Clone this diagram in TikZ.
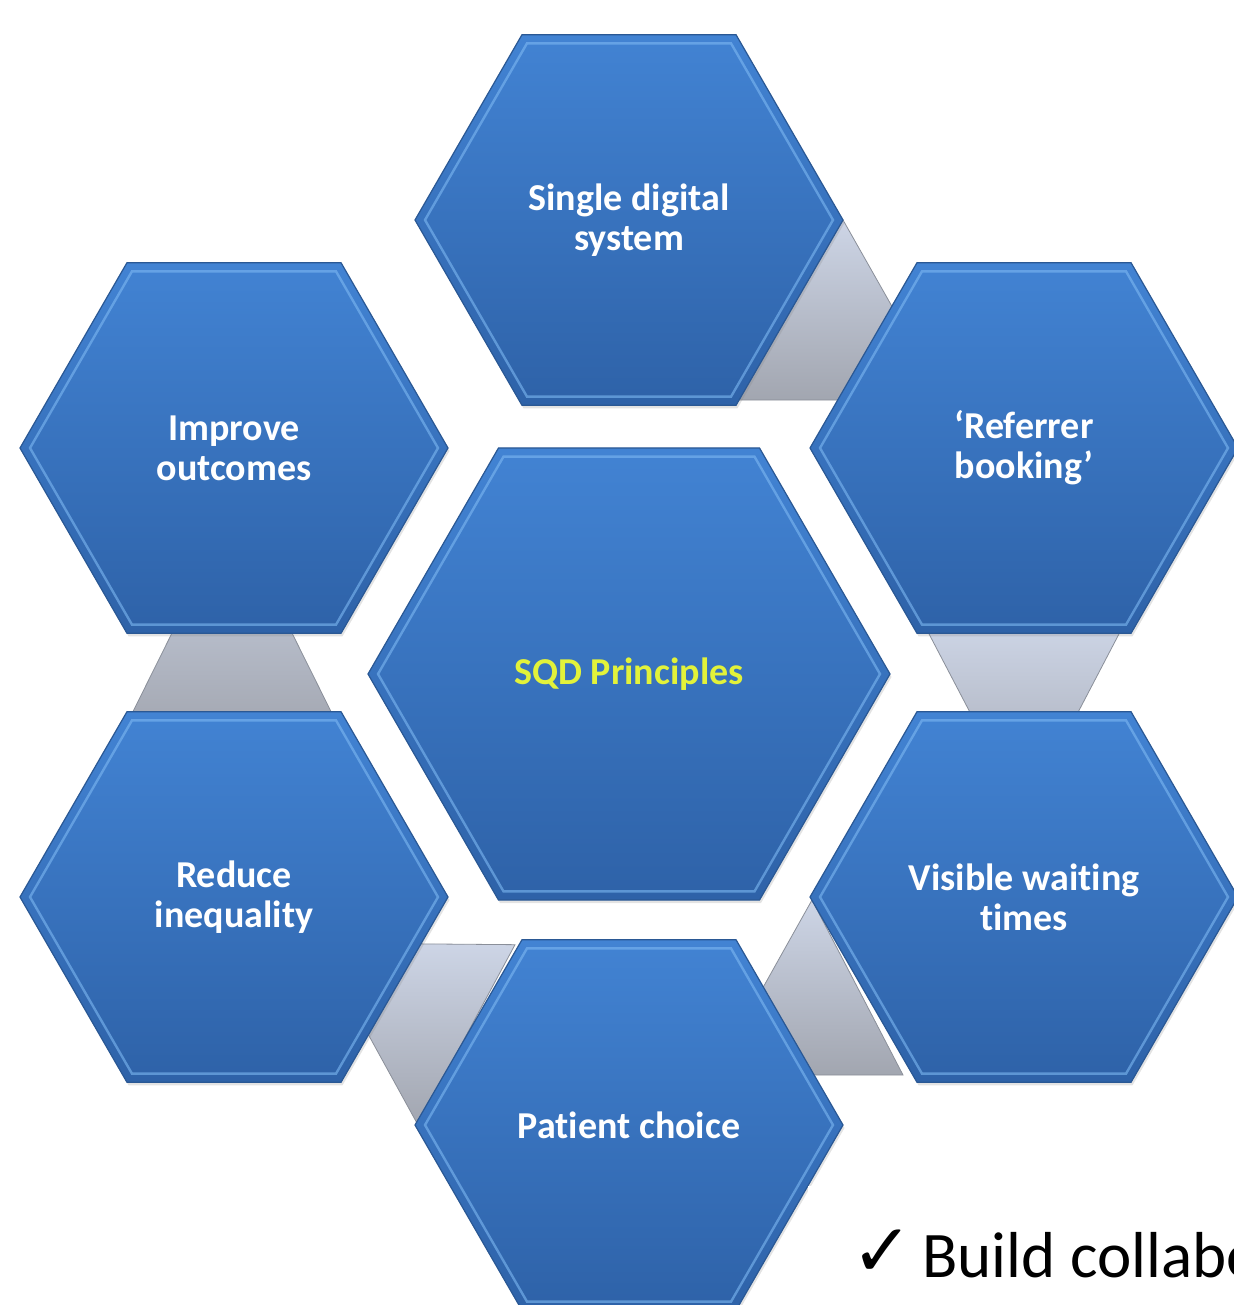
\documentclass[tikz,border=0pt]{standalone}
\usepackage{fontspec}
\setmainfont{Carlito}[Ligatures={NoCommon}]
\newfontfamily\symbolfont{DejaVu Sans}
\usetikzlibrary{shapes.geometric,calc,shadows}

\pgfdeclarelayer{background}
\pgfsetlayers{background,main}

\definecolor{hexTop}{HTML}{4283D3}
\definecolor{hexBottom}{HTML}{2E62A8}
\definecolor{hexEdge}{HTML}{2A5894}
\definecolor{hexGlint}{HTML}{7DB8F2}
\definecolor{linkTop}{HTML}{CDD5E6}
\definecolor{linkBottom}{HTML}{A2A6B0}
\definecolor{linkEdge}{HTML}{8A8F99}
\definecolor{titleYellow}{HTML}{E2F23A}

\tikzset{
  hexcell/.style={regular polygon, regular polygon sides=6,
    inner sep=0pt, outer sep=0pt, minimum size=428,
    top color=hexTop, bottom color=hexBottom,
    draw=hexEdge, line width=1.2pt,
    drop shadow={opacity=0.22, shadow xshift=1.5pt, shadow yshift=-3pt},
    text=white, align=center,
    font=\bfseries\fontsize{38}{40}\selectfont},
  hexrim/.style={regular polygon, regular polygon sides=6,
    inner sep=0pt, outer sep=0pt,
    draw=hexGlint, draw opacity=0.6, line width=2.4pt},
  link/.style={top color=linkTop, bottom color=linkBottom,
    draw=linkEdge, line width=0.8pt},
  note/.style={inner sep=0pt, outer sep=0pt, text=black},
}

% one bevelled hexagon: name, centre, circumcircle diameter, extra style, label
\newcommand\honeycell[5]{%
  \node[hexcell, minimum size=#3, #4] (#1) at (#2) {#5};
  \node[hexrim, minimum size=#3-20] (#1-rim) at (#1.center) {};
}

\begin{document}
\begin{tikzpicture}[x=1pt,y=-1pt]
\useasboundingbox (0,0) rectangle (1233,1305);

% the seven cells
\honeycell{digital}{629,220}{428}{}{Single digital\\system}
\honeycell{outcomes}{234,448}{428}{}{Improve\\outcomes}
\honeycell{referrer}{1024,448}{428}{}{‘Referrer\\booking’}
\honeycell{principles}{629,674}{522}{text=titleYellow}{SQD Principles}
\honeycell{inequality}{234,897}{428}{}{Reduce\\inequality}
\honeycell{waiting}{1024,897}{428}{}{Visible waiting\\times}
\honeycell{choice}{629,1125}{428}{}{Patient choice}

% grey links behind the ring of cells
\begin{pgfonlayer}{background}
  \path[link] (digital.east) -- ($(digital.east)+(102,180)$)
    -- ($(digital.east)+(-105,180)$) -- cycle;
  \path[link] ($(referrer.south)+(-100,-9)$) -- ($(referrer.south)+(100,-9)$)
    -- ($(waiting.north)+(0,104)$) -- cycle;
  \path[link] ($(outcomes.south)+(-2,-121)$) -- ($(inequality.north)+(108,22)$)
    -- ($(inequality.north)+(-112,22)$) -- cycle;
  \path[link] ($(inequality.east)+(-130,46)$) -- ($(choice.north)+(-114,5)$)
    -- ($(choice.west)+(3,0)$) -- cycle;
  \path[link] ($(waiting.west)+(2,3)$) -- ($(waiting.west)+(93,178)$)
    -- ($(waiting.west)+(-96,178)$) -- cycle;
\end{pgfonlayer}

% text panel in the lower right corner
\path[fill=white] (808,1186) rectangle (1240,1310);
\node[note, font=\symbolfont\fontsize{74}{78}\selectfont] (tick) at (882,1253) {✓};
\node[note, anchor=base west, font=\fontsize{65}{70}\selectfont] (build) at (922,1277) {Build collabo};
\end{tikzpicture}
\end{document}
